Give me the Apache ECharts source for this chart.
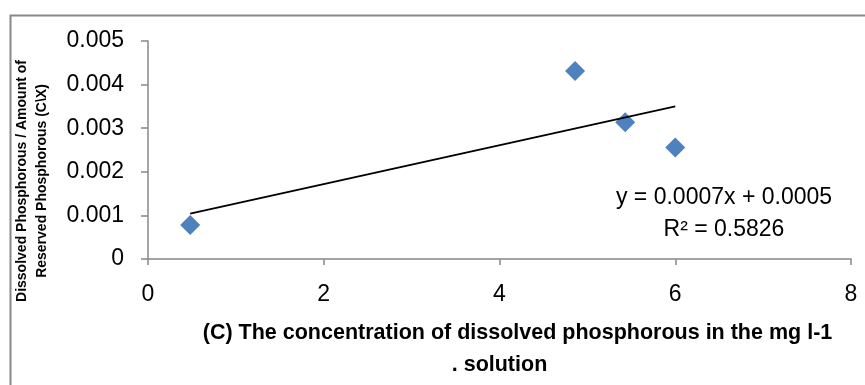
<!DOCTYPE html>
<html>
<head>
<meta charset="utf-8">
<script src="https://cdn.jsdelivr.net/npm/echarts@6/dist/echarts.min.js"></script>
<style>
html,body{margin:0;padding:0;background:#fff;}
#chart{width:865px;height:385px;}
</style>
</head>
<body>
<div id="chart"></div>
<script>
// Data
const xValues = [0.48, 4.86, 5.43, 6.0];
const yValues = [0.00078, 0.00431, 0.003135, 0.00256];
const xTicks = [0, 2, 4, 6, 8];
const yTicks = [0, 0.001, 0.002, 0.003, 0.004, 0.005];
const equationText = 'y = 0.0007x + 0.0005';
const r2Text = 'R² = 0.5826';
const xTitleLine1 = '(C) The concentration of dissolved phosphorous in the mg l-1';
const xTitleLine2 = '. solution';
const yTitleLine1 = 'Dissolved Phosphorous / Amount of';
const yTitleLine2 = 'Reserved Phosphorous (C\\X)';

// least-squares linear trend line through the data
const n = xValues.length;
const mx = xValues.reduce((a, b) => a + b, 0) / n;
const my = yValues.reduce((a, b) => a + b, 0) / n;
let sxy = 0, sxx = 0;
for (let i = 0; i < n; i++) { sxy += (xValues[i] - mx) * (yValues[i] - my); sxx += (xValues[i] - mx) ** 2; }
const slope = sxy / sxx, intercept = my - slope * mx;
const xMin = Math.min(...xValues), xMax = Math.max(...xValues);
const trend = [[xMin, intercept + slope * xMin], [xMax, intercept + slope * xMax]];

const font = 'Liberation Sans';
const chart = echarts.init(document.getElementById('chart'));
chart.setOption({
  animation: false,
  backgroundColor: '#fff',
  grid: { left: 148, right: 14, top: 41, bottom: 126, containLabel: false, outerBoundsMode: 'none' },
  xAxis: {
    type: 'value', min: xTicks[0], max: xTicks[xTicks.length - 1], interval: xTicks[1] - xTicks[0],
    splitLine: { show: false },
    axisLine: { show: true, lineStyle: { color: '#888', width: 1.5 } },
    axisTick: { show: true, length: 6, lineStyle: { color: '#888', width: 1.5 } },
    axisLabel: { fontFamily: font, fontSize: 23, color: '#000', margin: 24 },
    name: '{a|' + xTitleLine1 + '}\n{b|' + xTitleLine2 + '}',
    nameLocation: 'middle', nameGap: 58,
    nameTextStyle: {
      fontFamily: font, fontWeight: 'bold', fontSize: 21.5, color: '#000', lineHeight: 32,
      rich: {
        a: { fontFamily: font, fontWeight: 'bold', fontSize: 21.5, color: '#000', lineHeight: 32, padding: [0, 0, 0, 36] },
        b: { fontFamily: font, fontWeight: 'bold', fontSize: 21.5, color: '#000', lineHeight: 32 }
      }
    }
  },
  yAxis: {
    type: 'value', min: yTicks[0], max: yTicks[yTicks.length - 1], interval: yTicks[1] - yTicks[0],
    splitLine: { show: false },
    axisLine: { show: true, lineStyle: { color: '#888', width: 1.5 } },
    axisTick: { show: true, length: 7, lineStyle: { color: '#888', width: 1.5 } },
    axisLabel: { fontFamily: font, fontSize: 23, color: '#000', margin: 24, formatter: v => String(+v.toFixed(3)) },
    name: yTitleLine1 + '\n' + yTitleLine2,
    nameLocation: 'middle', nameGap: 96, nameRotate: 90,
    nameTextStyle: { fontFamily: font, fontWeight: 'bold', fontSize: 14, color: '#000', lineHeight: 20, padding: [0, 62, 0, 0] }
  },
  series: [
    {
      type: 'scatter',
      data: xValues.map((x, i) => [x, yValues[i]]),
      symbol: 'diamond', symbolSize: 20,
      itemStyle: { color: '#4F81BD', opacity: 1 },
      z: 3
    },
    {
      type: 'line',
      data: trend,
      showSymbol: false, symbol: 'none',
      lineStyle: { color: '#000', width: 1.8 },
      z: 4
    }
  ],
  graphic: [
    { type: 'rect', left: 8, top: 13, shape: { width: 900, height: 400 }, style: { fill: 'none', stroke: '#888', lineWidth: 2 }, silent: true, z: -1 },
    { type: 'text', x: 724, y: 198, style: { text: equationText, fontFamily: font, fontSize: 23, fill: '#000', align: 'center', verticalAlign: 'middle' } },
    { type: 'text', x: 724, y: 230, style: { text: r2Text, fontFamily: font, fontSize: 23, fill: '#000', align: 'center', verticalAlign: 'middle' } }
  ]
});
</script>
</body>
</html>
